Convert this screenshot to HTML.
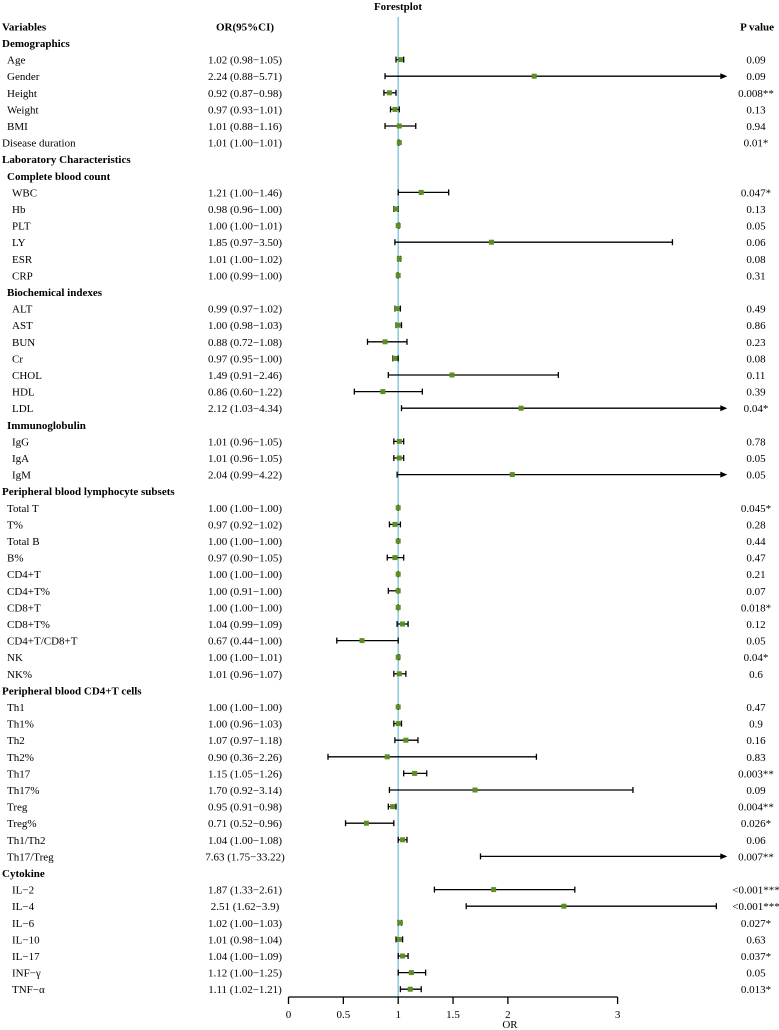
<!DOCTYPE html>
<html><head><meta charset="utf-8"><style>
html,body{margin:0;padding:0;background:#fff;}
svg{display:block;font-family:"Liberation Serif",serif;}
</style></head><body>
<svg id="chart" width="779" height="1030" viewBox="0 0 779 1030">
<text x="398" y="10" text-anchor="middle" font-size="11" font-weight="bold">Forestplot</text>
</svg>
<script>
const labels = ["Variables","Demographics","Age","Gender","Height","Weight","BMI","Disease duration","Laboratory Characteristics","Complete blood count","WBC","Hb","PLT","LY","ESR","CRP","Biochemical indexes","ALT","AST","BUN","Cr","CHOL","HDL","LDL","Immunoglobulin","IgG","IgA","IgM","Peripheral blood lymphocyte subsets","Total T","T%","Total B","B%","CD4+T","CD4+T%","CD8+T","CD8+T%","CD4+T/CD8+T","NK","NK%","Peripheral blood CD4+T cells","Th1","Th1%","Th2","Th2%","Th17","Th17%","Treg","Treg%","Th1/Th2","Th17/Treg","Cytokine","IL−2","IL−4","IL−6","IL−10","IL−17","INF−γ","TNF−α"];
const levels = [0,0,1,1,1,1,1,0,0,1,2,2,2,2,2,2,1,2,2,2,2,2,2,2,1,2,2,2,0,1,1,1,1,1,1,1,1,1,1,1,0,1,1,1,1,1,1,1,1,1,1,0,2,2,2,2,2,2,2];
const bold = [1,1,0,0,0,0,0,0,1,1,0,0,0,0,0,0,1,0,0,0,0,0,0,0,1,0,0,0,1,0,0,0,0,0,0,0,0,0,0,0,1,0,0,0,0,0,0,0,0,0,0,1,0,0,0,0,0,0,0];
const orVals = [null,null,1.02,2.24,0.92,0.97,1.01,1.01,null,null,1.21,0.98,1.00,1.85,1.01,1.00,null,0.99,1.00,0.88,0.97,1.49,0.86,2.12,null,1.01,1.01,2.04,null,1.00,0.97,1.00,0.97,1.00,1.00,1.00,1.04,0.67,1.00,1.01,null,1.00,1.00,1.07,0.90,1.15,1.70,0.95,0.71,1.04,7.63,null,1.87,2.51,1.02,1.01,1.04,1.12,1.11];
const loVals = [null,null,0.98,0.88,0.87,0.93,0.88,1.00,null,null,1.00,0.96,1.00,0.97,1.00,0.99,null,0.97,0.98,0.72,0.95,0.91,0.60,1.03,null,0.96,0.96,0.99,null,1.00,0.92,1.00,0.90,1.00,0.91,1.00,0.99,0.44,1.00,0.96,null,1.00,0.96,0.97,0.36,1.05,0.92,0.91,0.52,1.00,1.75,null,1.33,1.62,1.00,0.98,1.00,1.00,1.02];
const hiVals = [null,null,1.05,5.71,0.98,1.01,1.16,1.01,null,null,1.46,1.00,1.01,3.50,1.02,1.00,null,1.02,1.03,1.08,1.00,2.46,1.22,4.34,null,1.05,1.05,4.22,null,1.00,1.02,1.00,1.05,1.00,1.00,1.00,1.09,1.00,1.01,1.07,null,1.00,1.03,1.18,2.26,1.26,3.14,0.98,0.96,1.08,33.22,null,2.61,3.9,1.03,1.04,1.09,1.25,1.21];
const ciText = ["OR(95%CI)","","1.02 (0.98−1.05)","2.24 (0.88−5.71)","0.92 (0.87−0.98)","0.97 (0.93−1.01)","1.01 (0.88−1.16)","1.01 (1.00−1.01)","","","1.21 (1.00−1.46)","0.98 (0.96−1.00)","1.00 (1.00−1.01)","1.85 (0.97−3.50)","1.01 (1.00−1.02)","1.00 (0.99−1.00)","","0.99 (0.97−1.02)","1.00 (0.98−1.03)","0.88 (0.72−1.08)","0.97 (0.95−1.00)","1.49 (0.91−2.46)","0.86 (0.60−1.22)","2.12 (1.03−4.34)","","1.01 (0.96−1.05)","1.01 (0.96−1.05)","2.04 (0.99−4.22)","","1.00 (1.00−1.00)","0.97 (0.92−1.02)","1.00 (1.00−1.00)","0.97 (0.90−1.05)","1.00 (1.00−1.00)","1.00 (0.91−1.00)","1.00 (1.00−1.00)","1.04 (0.99−1.09)","0.67 (0.44−1.00)","1.00 (1.00−1.01)","1.01 (0.96−1.07)","","1.00 (1.00−1.00)","1.00 (0.96−1.03)","1.07 (0.97−1.18)","0.90 (0.36−2.26)","1.15 (1.05−1.26)","1.70 (0.92−3.14)","0.95 (0.91−0.98)","0.71 (0.52−0.96)","1.04 (1.00−1.08)","7.63 (1.75−33.22)","","1.87 (1.33−2.61)","2.51 (1.62−3.9)","1.02 (1.00−1.03)","1.01 (0.98−1.04)","1.04 (1.00−1.09)","1.12 (1.00−1.25)","1.11 (1.02−1.21)"];
const pText = ["P value","","0.09","0.09","0.008**","0.13","0.94","0.01*","","","0.047*","0.13","0.05","0.06","0.08","0.31","","0.49","0.86","0.23","0.08","0.11","0.39","0.04*","","0.78","0.05","0.05","","0.045*","0.28","0.44","0.47","0.21","0.07","0.018*","0.12","0.05","0.04*","0.6","","0.47","0.9","0.16","0.83","0.003**","0.09","0.004**","0.026*","0.06","0.007**","","<0.001***","<0.001***","0.027*","0.63","0.037*","0.05","0.013*"];
const axisTicks = [0,0.5,1,1.5,2,3];
const tickLabels = ["0","0.5","1","1.5","2","3"];

const NS = "http://www.w3.org/2000/svg";
const svg = document.getElementById('chart');
const X0 = 288.5, XS = 109.7, XMAX = 4;
const xScale = v => X0 + Math.min(v, XMAX) * XS;
const yRow = i => 26.4 + i * 16.6;
function mk(tag, attrs){const e=document.createElementNS(NS,tag);for(const k in attrs)e.setAttribute(k,attrs[k]);svg.appendChild(e);return e;}

const ref = mk('line',{x1:xScale(1),x2:xScale(1),y1:17,y2:997,stroke:'#8cc8dc','stroke-width':1.5});



const indent = [2,7,12];
labels.forEach((lab,i)=>{
  const y = yRow(i);
  const t = mk('text',{x:indent[levels[i]], y:y+4, 'font-size':11, 'font-weight':bold[i]?'bold':'normal'});
  t.textContent = lab;
  
  
  if (ciText[i]) {
    const c = mk('text',{x:245, y:y+4, 'font-size':11, 'text-anchor':'middle', 'font-weight':i===0?'bold':'normal'});
    c.textContent = ciText[i];
    
    
  }
  if (pText[i]) {
    const p = mk('text',{x:i===0?774:756, y:y+4, 'font-size':11, 'text-anchor':i===0?'end':'middle', 'font-weight':i===0?'bold':'normal'});
    p.textContent = pText[i];
    
    
  }
  if (orVals[i] !== null) {
    const xl = xScale(loVals[i]), xh = xScale(hiVals[i]);
    const arrow = hiVals[i] > XMAX;
    const ln = mk('line',{x1:xl,x2:arrow?xh-5:xh,y1:y,y2:y,stroke:'#000','stroke-width':1.3});
    
    
    const c1 = mk('line',{x1:xl,x2:xl,y1:y-3,y2:y+3,stroke:'#000','stroke-width':1.3});
    
    
    if (arrow) {
      const a = mk('polygon',{points:`${xh},${y} ${xh-7},${y-3} ${xh-7},${y+3}`,fill:'#000'});
      
      
    } else {
      const c2 = mk('line',{x1:xh,x2:xh,y1:y-3,y2:y+3,stroke:'#000','stroke-width':1.3});
      
      
    }
    if (orVals[i] <= XMAX) {
      const xp = xScale(orVals[i]);
      const sq = mk('rect',{x:xp-2.5,y:y-2.5,width:5,height:5,fill:'#5b8f22'});
      
      
    }
  }
});

const ax = mk('line',{x1:xScale(0),x2:xScale(3),y1:997,y2:997,stroke:'#000','stroke-width':1.3});


axisTicks.forEach((v,k)=>{
  const tk = mk('line',{x1:xScale(v),x2:xScale(v),y1:997,y2:1004,stroke:'#000','stroke-width':1.3});
  
  
  const tl = mk('text',{x:xScale(v),y:1018,'font-size':11,'text-anchor':'middle'});
  tl.textContent = tickLabels[k];
  
  
});
const xt = mk('text',{x:510,y:1028,'font-size':11,'text-anchor':'middle'});
xt.textContent = 'OR';


</script>
</body></html>
